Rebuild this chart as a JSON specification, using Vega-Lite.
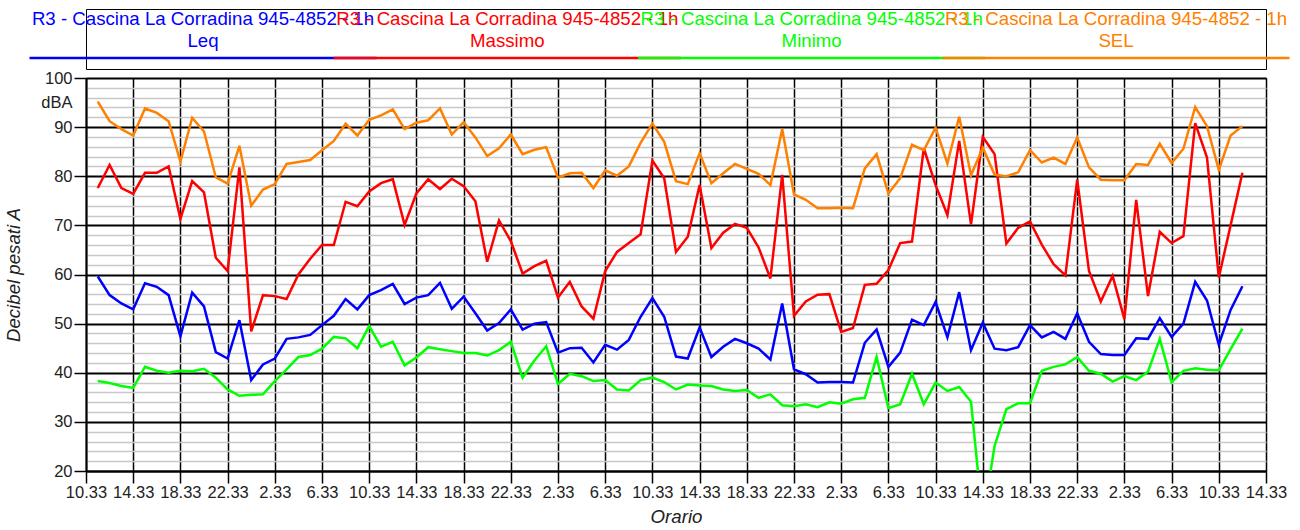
{
  "$schema": "https://vega.github.io/schema/vega-lite/v6.json",
  "padding": {"left": 4, "top": 8, "right": 5, "bottom": 2},
  "bounds": "flush",
  "spacing": 9,
  "config": {
    "font": "Liberation Sans",
    "view": {"stroke": "#000000", "strokeWidth": 1}
  },
  "vconcat": [
    {
      "width": 1180,
      "height": 60,
      "data": {"values": [
        {"serie": "Leq", "label": "R3 - Cascina La Corradina 945-4852 - 1h\nLeq"},
        {"serie": "Massimo", "label": "R3 - Cascina La Corradina 945-4852 - 1h\nMassimo"},
        {"serie": "Minimo", "label": "R3 - Cascina La Corradina 945-4852 - 1h\nMinimo"},
        {"serie": "SEL", "label": "R3 - Cascina La Corradina 945-4852 - 1h\nSEL"}
      ]},
      "encoding": {
        "x": {"field": "serie", "type": "nominal", "scale": {"type": "point", "domain": ["Leq", "Massimo", "Minimo", "SEL"], "range": [117, 1030], "padding": 0}, "axis": null},
        "color": {"field": "serie", "type": "nominal", "scale": {"domain": ["Leq", "Massimo", "Minimo", "SEL"], "range": ["#0000ff", "#ff0000", "#00ff00", "#ff8000"]}, "legend": null}
      },
      "layer": [
        {"mark": {"type": "rule", "orient": "horizontal", "strokeWidth": 2.5, "xOffset": -173.5, "x2Offset": 173.5, "yOffset": 19}, "encoding": {"x2": {"field": "serie"}}},
        {"mark": {"type": "text", "lineBreak": "\n", "fontSize": 18.67, "lineHeight": 22, "baseline": "middle", "dy": -20}, "encoding": {"text": {"field": "label"}}}
      ]
    },
    {
      "width": 1180,
      "height": 393,
      "data": {"values": [
        {"h": 1, "Leq": 59.6, "Massimo": 77.6, "Minimo": 38.3, "SEL": 95.2},
        {"h": 2, "Leq": 55.8, "Massimo": 82.3, "Minimo": 37.9, "SEL": 91.2},
        {"h": 3, "Leq": 54.1, "Massimo": 77.6, "Minimo": 37.3, "SEL": 89.6},
        {"h": 4, "Leq": 52.9, "Massimo": 76.4, "Minimo": 36.9, "SEL": 88.3},
        {"h": 5, "Leq": 58.2, "Massimo": 80.7, "Minimo": 41.2, "SEL": 93.8},
        {"h": 6, "Leq": 57.5, "Massimo": 80.7, "Minimo": 40.4, "SEL": 92.9},
        {"h": 7, "Leq": 55.8, "Massimo": 82.0, "Minimo": 40.0, "SEL": 91.2},
        {"h": 8, "Leq": 47.4, "Massimo": 71.3, "Minimo": 40.4, "SEL": 83.0},
        {"h": 9, "Leq": 56.3, "Massimo": 79.0, "Minimo": 40.3, "SEL": 91.9},
        {"h": 10, "Leq": 53.5, "Massimo": 76.7, "Minimo": 40.8, "SEL": 89.1},
        {"h": 11, "Leq": 44.2, "Massimo": 63.4, "Minimo": 39.0, "SEL": 79.8},
        {"h": 12, "Leq": 42.9, "Massimo": 60.7, "Minimo": 36.6, "SEL": 78.5},
        {"h": 13, "Leq": 50.7, "Massimo": 81.8, "Minimo": 35.3, "SEL": 86.2},
        {"h": 14, "Leq": 38.5, "Massimo": 48.4, "Minimo": 35.5, "SEL": 74.0},
        {"h": 15, "Leq": 41.7, "Massimo": 55.8, "Minimo": 35.6, "SEL": 77.3},
        {"h": 16, "Leq": 42.9, "Massimo": 55.6, "Minimo": 38.3, "SEL": 78.4},
        {"h": 17, "Leq": 46.9, "Massimo": 55.0, "Minimo": 40.7, "SEL": 82.5},
        {"h": 18, "Leq": 47.2, "Massimo": 60.0, "Minimo": 43.2, "SEL": 82.9},
        {"h": 19, "Leq": 47.7, "Massimo": 63.2, "Minimo": 43.6, "SEL": 83.3},
        {"h": 20, "Leq": 49.7, "Massimo": 66.0, "Minimo": 44.9, "SEL": 85.3},
        {"h": 21, "Leq": 51.6, "Massimo": 66.0, "Minimo": 47.3, "SEL": 87.2},
        {"h": 22, "Leq": 55.0, "Massimo": 74.8, "Minimo": 47.0, "SEL": 90.7},
        {"h": 23, "Leq": 52.9, "Massimo": 73.9, "Minimo": 45.0, "SEL": 88.3},
        {"h": 24, "Leq": 55.8, "Massimo": 76.9, "Minimo": 49.5, "SEL": 91.5},
        {"h": 25, "Leq": 56.8, "Massimo": 78.6, "Minimo": 45.3, "SEL": 92.4},
        {"h": 26, "Leq": 58.1, "Massimo": 79.4, "Minimo": 46.3, "SEL": 93.6},
        {"h": 27, "Leq": 54.0, "Massimo": 70.1, "Minimo": 41.5, "SEL": 89.6},
        {"h": 28, "Leq": 55.3, "Massimo": 76.5, "Minimo": 43.1, "SEL": 90.9},
        {"h": 29, "Leq": 55.8, "Massimo": 79.4, "Minimo": 45.2, "SEL": 91.4},
        {"h": 30, "Leq": 58.3, "Massimo": 77.4, "Minimo": 44.8, "SEL": 93.8},
        {"h": 31, "Leq": 53.0, "Massimo": 79.5, "Minimo": 44.4, "SEL": 88.5},
        {"h": 32, "Leq": 55.5, "Massimo": 78.0, "Minimo": 44.0, "SEL": 91.0},
        {"h": 33, "Leq": 52.1, "Massimo": 74.9, "Minimo": 44.0, "SEL": 87.9},
        {"h": 34, "Leq": 48.6, "Massimo": 62.6, "Minimo": 43.5, "SEL": 84.1},
        {"h": 35, "Leq": 50.1, "Massimo": 71.0, "Minimo": 44.6, "SEL": 85.7},
        {"h": 36, "Leq": 52.9, "Massimo": 66.8, "Minimo": 46.3, "SEL": 88.5},
        {"h": 37, "Leq": 48.8, "Massimo": 60.2, "Minimo": 39.0, "SEL": 84.5},
        {"h": 38, "Leq": 50.0, "Massimo": 61.7, "Minimo": 42.5, "SEL": 85.4},
        {"h": 39, "Leq": 50.3, "Massimo": 62.8, "Minimo": 45.4, "SEL": 85.9},
        {"h": 40, "Leq": 44.1, "Massimo": 55.3, "Minimo": 37.7, "SEL": 79.7},
        {"h": 41, "Leq": 45.0, "Massimo": 58.5, "Minimo": 39.8, "SEL": 80.6},
        {"h": 42, "Leq": 45.1, "Massimo": 53.5, "Minimo": 39.3, "SEL": 80.7},
        {"h": 43, "Leq": 42.1, "Massimo": 51.0, "Minimo": 38.3, "SEL": 77.6},
        {"h": 44, "Leq": 45.7, "Massimo": 60.7, "Minimo": 38.5, "SEL": 81.2},
        {"h": 45, "Leq": 44.7, "Massimo": 64.6, "Minimo": 36.6, "SEL": 80.1},
        {"h": 46, "Leq": 46.7, "Massimo": 66.4, "Minimo": 36.4, "SEL": 82.0},
        {"h": 47, "Leq": 51.4, "Massimo": 68.2, "Minimo": 38.5, "SEL": 86.8},
        {"h": 48, "Leq": 55.2, "Massimo": 83.2, "Minimo": 39.0, "SEL": 90.7},
        {"h": 49, "Leq": 51.4, "Massimo": 79.6, "Minimo": 38.1, "SEL": 87.0},
        {"h": 50, "Leq": 43.3, "Massimo": 64.6, "Minimo": 36.6, "SEL": 79.0},
        {"h": 51, "Leq": 42.9, "Massimo": 67.7, "Minimo": 37.6, "SEL": 78.4},
        {"h": 52, "Leq": 49.2, "Massimo": 78.2, "Minimo": 37.4, "SEL": 84.7},
        {"h": 53, "Leq": 43.2, "Massimo": 65.4, "Minimo": 37.3, "SEL": 78.6},
        {"h": 54, "Leq": 45.3, "Massimo": 68.5, "Minimo": 36.6, "SEL": 80.6},
        {"h": 55, "Leq": 46.9, "Massimo": 70.3, "Minimo": 36.3, "SEL": 82.5},
        {"h": 56, "Leq": 46.0, "Massimo": 69.5, "Minimo": 36.5, "SEL": 81.5},
        {"h": 57, "Leq": 44.9, "Massimo": 65.5, "Minimo": 34.9, "SEL": 80.5},
        {"h": 58, "Leq": 42.7, "Massimo": 59.2, "Minimo": 35.6, "SEL": 78.2},
        {"h": 59, "Leq": 54.1, "Massimo": 80.3, "Minimo": 33.4, "SEL": 89.6},
        {"h": 60, "Leq": 40.7, "Massimo": 51.6, "Minimo": 33.2, "SEL": 76.3},
        {"h": 61, "Leq": 39.7, "Massimo": 54.5, "Minimo": 33.6, "SEL": 75.2},
        {"h": 62, "Leq": 38.0, "Massimo": 55.9, "Minimo": 33.0, "SEL": 73.5},
        {"h": 63, "Leq": 38.1, "Massimo": 56.0, "Minimo": 34.0, "SEL": 73.5},
        {"h": 64, "Leq": 38.1, "Massimo": 48.3, "Minimo": 33.7, "SEL": 73.6},
        {"h": 65, "Leq": 38.0, "Massimo": 49.1, "Minimo": 34.6, "SEL": 73.5},
        {"h": 66, "Leq": 46.1, "Massimo": 57.9, "Minimo": 34.9, "SEL": 81.6},
        {"h": 67, "Leq": 48.8, "Massimo": 58.1, "Minimo": 43.2, "SEL": 84.5},
        {"h": 68, "Leq": 41.2, "Massimo": 60.9, "Minimo": 32.8, "SEL": 76.5},
        {"h": 69, "Leq": 44.1, "Massimo": 66.4, "Minimo": 33.6, "SEL": 79.6},
        {"h": 70, "Leq": 50.8, "Massimo": 66.7, "Minimo": 39.8, "SEL": 86.4},
        {"h": 71, "Leq": 49.7, "Massimo": 85.7, "Minimo": 33.6, "SEL": 85.3},
        {"h": 72, "Leq": 54.4, "Massimo": 78.2, "Minimo": 38.0, "SEL": 89.9},
        {"h": 73, "Leq": 47.2, "Massimo": 72.1, "Minimo": 36.3, "SEL": 82.6},
        {"h": 74, "Leq": 56.4, "Massimo": 87.2, "Minimo": 37.1, "SEL": 92.1},
        {"h": 75, "Leq": 44.6, "Massimo": 70.2, "Minimo": 34.1, "SEL": 80.2},
        {"h": 76, "Leq": 50.2, "Massimo": 88.0, "Minimo": 10.0, "SEL": 85.8},
        {"h": 77, "Leq": 44.9, "Massimo": 84.5, "Minimo": 25.1, "SEL": 80.3},
        {"h": 78, "Leq": 44.6, "Massimo": 66.3, "Minimo": 32.6, "SEL": 80.0},
        {"h": 79, "Leq": 45.2, "Massimo": 69.5, "Minimo": 33.8, "SEL": 80.8},
        {"h": 80, "Leq": 49.7, "Massimo": 70.8, "Minimo": 33.8, "SEL": 85.3},
        {"h": 81, "Leq": 47.2, "Massimo": 66.1, "Minimo": 40.4, "SEL": 82.8},
        {"h": 82, "Leq": 48.3, "Massimo": 62.1, "Minimo": 41.2, "SEL": 83.8},
        {"h": 83, "Leq": 46.9, "Massimo": 59.8, "Minimo": 41.7, "SEL": 82.5},
        {"h": 84, "Leq": 52.1, "Massimo": 79.3, "Minimo": 43.2, "SEL": 87.9},
        {"h": 85, "Leq": 46.3, "Massimo": 60.7, "Minimo": 40.4, "SEL": 81.8},
        {"h": 86, "Leq": 43.8, "Massimo": 54.5, "Minimo": 39.8, "SEL": 79.3},
        {"h": 87, "Leq": 43.6, "Massimo": 59.7, "Minimo": 38.2, "SEL": 79.2},
        {"h": 88, "Leq": 43.6, "Massimo": 50.9, "Minimo": 39.3, "SEL": 79.2},
        {"h": 89, "Leq": 47.0, "Massimo": 75.2, "Minimo": 38.5, "SEL": 82.5},
        {"h": 90, "Leq": 46.9, "Massimo": 55.6, "Minimo": 40.2, "SEL": 82.3},
        {"h": 91, "Leq": 51.1, "Massimo": 68.7, "Minimo": 46.9, "SEL": 86.6},
        {"h": 92, "Leq": 47.3, "Massimo": 66.4, "Minimo": 38.1, "SEL": 82.7},
        {"h": 93, "Leq": 50.0, "Massimo": 67.8, "Minimo": 40.4, "SEL": 85.6},
        {"h": 94, "Leq": 58.5, "Massimo": 90.8, "Minimo": 40.9, "SEL": 94.1},
        {"h": 95, "Leq": 54.7, "Massimo": 83.8, "Minimo": 40.6, "SEL": 90.2},
        {"h": 96, "Leq": 45.7, "Massimo": 59.4, "Minimo": 40.5, "SEL": 81.3},
        {"h": 97, "Leq": 52.8, "Massimo": 70.0, "Minimo": 44.8, "SEL": 88.3},
        {"h": 98, "Leq": 57.6, "Massimo": 80.7, "Minimo": 49.0, "SEL": 90.2}
      ]},
      "transform": [{"fold": ["Leq", "Massimo", "Minimo", "SEL"], "as": ["serie", "dB"]}],
      "mark": {"type": "line", "clip": true, "strokeWidth": 2.5},
      "encoding": {
        "x": {
          "field": "h", "type": "quantitative",
          "scale": {"domain": [0, 100], "nice": false, "zero": false},
          "axis": {
            "title": "Orario", "titleFontStyle": "italic", "titleFontWeight": "normal", "titleFontSize": 18.67, "titleColor": "#222222", "titlePadding": 7,
            "values": [0, 4, 8, 12, 16, 20, 24, 28, 32, 36, 40, 44, 48, 52, 56, 60, 64, 68, 72, 76, 80, 84, 88, 92, 96, 100],
            "labelExpr": "((10 + datum.value) % 24) + '.33'",
            "labelFontSize": 16.5, "labelColor": "#222222", "labelPadding": 1, "labelFlush": false, "labelOverlap": false,
            "ticks": true, "tickSize": 12, "tickColor": "#000000", "tickWidth": 1.5,
            "domainColor": "#000000", "domainWidth": 2,
            "grid": true, "gridColor": "#000000", "gridWidth": 1.5, "gridOpacity": 1
          }
        },
        "y": {
          "field": "dB", "type": "quantitative",
          "scale": {"domain": [20, 100], "nice": false, "zero": false},
          "axis": {
            "title": "Decibel pesati A", "titleFontStyle": "italic", "titleFontWeight": "normal", "titleFontSize": 18.67, "titleColor": "#222222", "titlePadding": 17,
            "values": [20, 22, 24, 26, 28, 30, 32, 34, 36, 38, 40, 42, 44, 46, 48, 50, 52, 54, 56, 58, 60, 62, 64, 66, 68, 70, 72, 74, 76, 78, 80, 82, 84, 86, 88, 90, 92, 94, 95, 96, 98, 100],
            "labelExpr": "datum.value == 95 ? 'dBA' : (datum.value % 10 == 0 ? datum.label : '')",
            "labelFontSize": 16.5, "labelColor": "#222222", "labelPadding": 2, "labelFlush": false, "labelOverlap": false,
            "ticks": true, "tickSize": 12, "tickWidth": 1.5,
            "tickColor": {"condition": {"test": "datum.value % 10 == 0", "value": "#000000"}, "value": "transparent"},
            "domainColor": "#000000", "domainWidth": 2,
            "grid": true,
            "gridColor": {"condition": {"test": "datum.value % 10 == 0", "value": "#000000"}, "value": "#c8c8c8"},
            "gridOpacity": {"condition": {"test": "datum.value == 95", "value": 0}, "value": 1},
            "gridWidth": {"condition": {"test": "datum.value % 10 == 0", "value": 2}, "value": 1.5}
          }
        },
        "color": {"field": "serie", "type": "nominal", "scale": {"domain": ["Leq", "Massimo", "Minimo", "SEL"], "range": ["#0000ff", "#ff0000", "#00ff00", "#ff8000"]}, "legend": null},
        "order": {"field": "serie"}
      }
    }
  ]
}
